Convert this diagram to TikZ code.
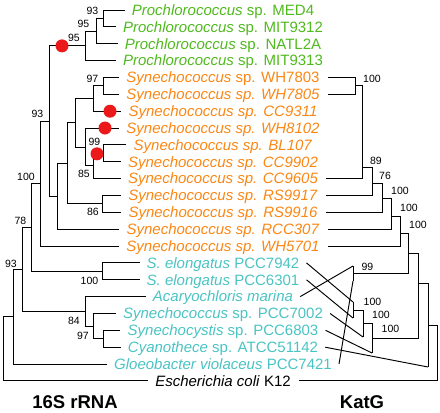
\documentclass[tikz,border=0pt]{standalone}
\usepackage{fontspec}
\setmainfont{Liberation Sans}
\definecolor{pro}{RGB}{80,185,30}
\definecolor{syn}{RGB}{250,135,20}
\definecolor{cya}{RGB}{75,195,195}
\definecolor{dotred}{RGB}{235,25,25}
\tikzset{
  br/.style={line width=0.95pt},
  leaf/.style={inner sep=0pt, text height=10.7pt, text depth=0pt, font=\fontsize{15}{18}\selectfont, anchor=center},
  bs/.style={inner sep=0pt, font=\fontsize{10.5}{12}\selectfont},
  rdot/.style={circle, fill=dotred, inner sep=0pt, minimum size=13pt},
  ttl/.style={inner sep=0pt, font=\fontsize{18.5}{22}\selectfont\bfseries}
}
\begin{document}
\begin{tikzpicture}[x=1pt,y=-1pt]
\useasboundingbox (0,0) rectangle (440,413);
% ---------- labels
\node[leaf,text=pro] (l1) at (223,10.0) {\textit{Prochlorococcus} sp. MED4};
\node[leaf,text=pro] (l2) at (223,26.9) {\textit{Prochlorococcus} sp. MIT9312};
\node[leaf,text=pro] (l3) at (223,43.7) {\textit{Prochlorococcus} sp. NATL2A};
\node[leaf,text=pro] (l4) at (223,60.6) {\textit{Prochlorococcus} sp. MIT9313};
\node[leaf,text=syn] (l5) at (223,77.4) {\textit{Synechococcus} sp. WH7803};
\node[leaf,text=syn] (l6) at (223,94.3) {\textit{Synechococcus sp. WH7805}};
\node[leaf,text=syn] (l7) at (223,111.2) {\textit{Synechococcus sp. CC9311}};
\node[leaf,text=syn] (l8) at (223,128.0) {\textit{Synechococcus sp. WH8102}};
\node[leaf,text=syn] (l9) at (223,144.9) {\textit{Synechococcus sp. BL107}};
\node[leaf,text=syn] (l10) at (223,161.7) {\textit{Synechococcus sp. CC9902}};
\node[leaf,text=syn] (l11) at (223,178.6) {\textit{Synechococcus sp. CC9605}};
\node[leaf,text=syn] (l12) at (223,195.5) {\textit{Synechococcus sp. RS9917}};
\node[leaf,text=syn] (l13) at (223,212.3) {\textit{Synechococcus sp. RS9916}};
\node[leaf,text=syn] (l14) at (223,229.2) {\textit{Synechococcus sp. RCC307}};
\node[leaf,text=syn] (l15) at (223,246.0) {\textit{Synechococcus sp. WH5701}};
\node[leaf,text=cya] (l16) at (223,262.9) {\textit{S. elongatus} PCC7942};
\node[leaf,text=cya] (l17) at (223,279.8) {\textit{S. elongatus} PCC6301};
\node[leaf,text=cya] (l18) at (223,296.6) {\textit{Acaryochloris marina}};
\node[leaf,text=cya] (l19) at (223,313.5) {\textit{Synechococcus} sp. PCC7002};
\node[leaf,text=cya] (l20) at (223,330.3) {\textit{Synechocystis} sp. PCC6803};
\node[leaf,text=cya] (l21) at (223,347.2) {\textit{Cyanothece} sp. ATCC51142};
\node[leaf,text=cya] (l22) at (223,364.0) {\textit{Gloeobacter violaceus} PCC7421};
\node[leaf,text=black] (l23) at (223,380.9) {\textit{Escherichia coli} K12};
% leaf ends, left
\foreach \i in {1,...,23} {\coordinate (e\i) at ([xshift=-7pt]l\i.west);}
% leaf ends, right
\foreach \i in {5,6,11,12,13,14,15} {\coordinate (r\i) at ([xshift=8pt]l\i.east);}
\foreach \i in {16,...,22} {\coordinate (r\i) at ([xshift=7pt]l\i.east);}
\coordinate (r23) at ([xshift=8pt]l23.east);
% ---------- 16S rRNA tree
\coordinate (p1) at (103,18.45);
\coordinate (p2) at (96,31.1);
\coordinate (p3) at (85,45.85);
\coordinate (s1) at (103,85.85);
\coordinate (s2) at (93,98.5);
\coordinate (s3) at (103,153.3);
\coordinate (s4) at (93,165.95);
\coordinate (s5) at (85,147);
\coordinate (s6) at (75,122.75);
\coordinate (s7) at (102,203.9);
\coordinate (s8) at (67,163.3);
\coordinate (s9) at (57,196.25);
\coordinate (a1) at (49,121.05);
\coordinate (a2) at (40,183.5);
\coordinate (g1) at (102,271.35);
\coordinate (a3) at (31,227.4);
\coordinate (c1) at (103,338.75);
\coordinate (c2) at (93,326.1);
\coordinate (c3) at (85,311.35);
\coordinate (a4) at (22,269.4);
\coordinate (a5) at (13,316.7);
\coordinate (rt) at (3,348.8);
\draw[br] (p1) |- (e1) (p1) |- (e2);
\draw[br] (p2) |- (p1) (p2) |- (e3);
\draw[br] (p3) |- (p2) (p3) |- (e4);
\draw[br] (s1) |- (e5) (s1) |- (e6);
\draw[br] (s2) |- (s1) (s2) |- (e7);
\draw[br] (s3) |- (e9) (s3) |- (e10);
\draw[br] (s4) |- (s3) (s4) |- (e11);
\draw[br] (s5) |- (e8) (s5) |- (s4);
\draw[br] (s6) |- (s2) (s6) |- (s5);
\draw[br] (s7) |- (e12) (s7) |- (e13);
\draw[br] (s8) |- (s6) (s8) |- (s7);
\draw[br] (s9) |- (s8) (s9) |- (e14);
\draw[br] (a1) |- (p3) (a1) |- (s9);
\draw[br] (a2) |- (a1) (a2) |- (e15);
\draw[br] (g1) |- (e16) (g1) |- (e17);
\draw[br] (a3) |- (a2) (a3) |- (g1);
\draw[br] (c1) |- (e20) (c1) |- (e21);
\draw[br] (c2) |- (e19) (c2) |- (c1);
\draw[br] (c3) |- (e18) (c3) |- (c2);
\draw[br] (a4) |- (a3) (a4) |- (c3);
\draw[br] (a5) |- (a4) (a5) |- (e22);
\draw[br] (rt) |- (a5) (rt) |- (e23);
% red dots
\node[rdot] (d1) at (62,45.85) {};
\node[rdot] (d2) at (110,111.2) {};
\node[rdot] (d3) at (105,128.0) {};
\node[rdot] (d4) at (97,153.8) {};
% bootstrap values, 16S
\node[bs] (b1) at (92.5,11) {93};
\node[bs] (b2) at (83.5,24) {95};
\node[bs] (b3) at (74,38) {95};
\node[bs] (b4) at (92.5,79) {97};
\node[bs] (b5) at (37.5,114) {93};
\node[bs] (b6) at (94.5,142) {99};
\node[bs] (b7) at (84,174) {85};
\node[bs] (b8) at (93,212) {86};
\node[bs] (b9) at (26,177) {100};
\node[bs] (b10) at (20.5,221) {78};
\node[bs] (b11) at (11,264) {93};
\node[bs] (b12) at (89.5,281) {100};
\node[bs] (b13) at (74,321) {84};
\node[bs] (b14) at (83,336) {97};
% ---------- KatG tree
\coordinate (k1) at (355,85.85);
\coordinate (k2) at (362,167);
\coordinate (k3) at (372,183);
\coordinate (k4) at (382,198);
\coordinate (k5) at (391,216);
\coordinate (k6) at (400,233);
\coordinate (tA) at (353,266);
\coordinate (tG) at (353,281);
\coordinate (k99) at (353,273.5);
\coordinate (k7) at (408,253);
\coordinate (t42) at (353,302);
\coordinate (t01) at (353,318);
\coordinate (ka) at (353,310);
\coordinate (t02) at (363,337);
\coordinate (kb) at (363,323);
\coordinate (t03) at (372,353);
\coordinate (kc) at (372,338);
\coordinate (k8) at (418,283);
\coordinate (t51) at (428,367);
\coordinate (k9) at (428,325);
\coordinate (k10) at (437,353);
\draw[br] (k1) |- (r5) (k1) |- (r6);
\draw[br] (k2) |- (k1) (k2) |- (r11);
\draw[br] (k3) |- (k2) (k3) |- (r12);
\draw[br] (k4) |- (k3) (k4) |- (r13);
\draw[br] (k5) |- (k4) (k5) |- (r14);
\draw[br] (k6) |- (k5) (k6) |- (r15);
\draw[br] (tA) -- (tG);
\draw[br] (k7) |- (k6) (k7) |- (k99);
\draw[br] (t42) -- (t01);
\draw[br] (kb) |- (ka) (kb) -- (t02);
\draw[br] (kc) |- (kb) (kc) -- (t03);
\draw[br] (k8) |- (k7) (k8) |- (kc);
\draw[br] (k9) |- (k8) (k9) -- (t51);
\draw[br] (k10) |- (k9) (k10) |- (r23);
% tanglegram connectors
\draw[br] (r16) -- (t42);
\draw[br] (r17) -- (t01);
\draw[br] (r18) -- (tA);
\draw[br] (r19) -- (t02);
\draw[br] (r20) -- (t03);
\draw[br] (r21) -- (t51);
\draw[br] (r22) -- (tG);
% bootstrap values, KatG
\node[bs] (q1) at (372,79) {100};
\node[bs] (q2) at (376,161) {89};
\node[bs] (q3) at (385,175.5) {76};
\node[bs] (q4) at (400,191) {100};
\node[bs] (q5) at (409,208) {100};
\node[bs] (q6) at (418,225) {100};
\node[bs] (q7) at (367.5,267) {99};
\node[bs] (q8) at (372.5,302) {100};
\node[bs] (q9) at (381,315) {100};
\node[bs] (q10) at (390.5,329) {100};
% titles
\node[ttl] (t1) at (75,402) {16S rRNA};
\node[ttl] (t2) at (362,402) {KatG};
\end{tikzpicture}
\end{document}
